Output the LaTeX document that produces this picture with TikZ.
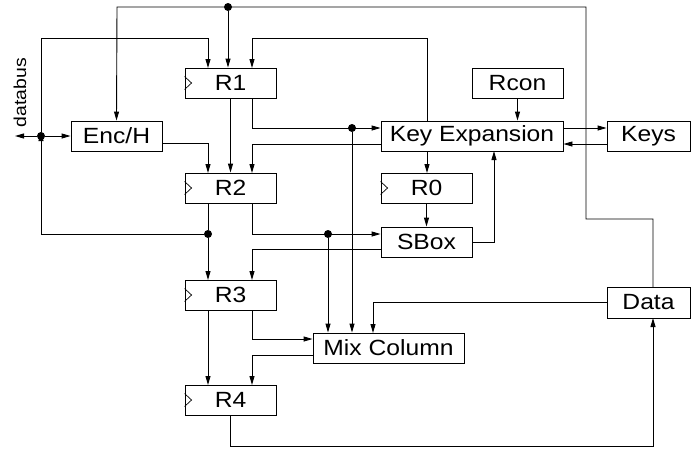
\documentclass[tikz,border=0pt]{standalone}
\usepackage{fontspec}
\setmainfont{Liberation Sans}[FakeStretch=1.12]
\usetikzlibrary{arrows.meta}
\begin{document}
\begin{tikzpicture}[x=1pt,y=-1pt,
  line width=0.9pt,
  blk/.style={draw,inner sep=0pt,minimum height=30pt,font=\fontsize{22}{26}\selectfont},
  ar/.style={-{Triangle[length=9pt,width=5pt]}},
  dotc/.style={circle,fill,inner sep=0pt,minimum size=8pt}]
\useasboundingbox (0,0) rectangle (691,448);
% boxes
\node[blk,minimum width=91pt] (R1) at (230.5,83) {R1};
\node[blk,minimum width=91pt] (R2) at (230.5,188) {R2};
\node[blk,minimum width=91pt] (R3) at (230.5,295) {R3};
\node[blk,minimum width=91pt] (R4) at (230.5,400) {R4};
\node[blk,minimum width=91pt] (E) at (116.5,136) {Enc/H};
\node[blk,minimum width=182pt] (KE) at (472,136) {Key Expansion};
\node[blk,minimum width=91pt] (Rc) at (517.5,83) {Rcon};
\node[blk,minimum width=83pt] (K) at (648.5,136) {Keys};
\node[blk,minimum width=91pt] (R0) at (426.5,188) {R0};
\node[blk,minimum width=91pt] (S) at (426.5,242) {SBox};
\node[blk,minimum width=151pt] (M) at (388.5,348) {Mix Column};
\node[blk,minimum width=83pt,minimum height=31pt] (D) at (648.5,302.5) {Data};
% clock marks
\foreach \r in {R1,R2,R3,R4,R0}{
  \draw[line width=0.7pt] ([yshift=6.5pt]\r.west) -- ([xshift=7pt]\r.west) -- ([yshift=-6.5pt]\r.west);
}
% dots / coordinates
\node[dotc] (db) at (41,136) {};
\node[dotc] (dt) at (228,7) {};
\node[dotc] (d2) at (208,234) {};
\node[dotc] (d3) at (328,234) {};
\node[dotc] (d1) at (352,128) {};
\coordinate (dbl) at (15,136);
\node[rotate=90,anchor=base,inner sep=0pt] (dbt) at (26,92.5) {\resizebox{69pt}{12.5pt}{databus}};
% top loop Data -> Enc/H, R1
\draw[ar] (653,287) -- (653,219) -- (586,219) -- (586,7) -- (117,7) -- (E.north);
\draw[ar] (dt) -- (dt |- R1.north);
% databus
\draw[ar] (db) -- (dbl);
\draw[ar] (db) -- (E.west);
\draw[ar] (db) -- (41,38) -- (208,38) -- (208,68);
\draw[ar] (d2) -- (41,234) -- ([yshift=4pt]db.center);
% R1 outputs
\draw[ar] (R1.south) -- (R2.north);
\draw[ar] (252,98) -- (252,128) -- (KE.west |- 0,128);
\draw[ar] (d1) -- (d1 |- M.north);
% KE -> R2, R1
\draw[ar] (KE.west |- 0,144) -- (252,144) -- (252,173);
\draw[ar] (427,121) -- (427,38) -- (252,38) -- (252,68);
% Enc/H -> R2
\draw[ar] (E.east |- 0,143) -- (208,143) -- (208,173);
% R2 outputs
\draw (208,203) -- (d2);
\draw[ar] (d2) -- (208,280);
\draw[ar] (252,203) -- (252,234) -- (S.west |- 0,234);
\draw[ar] (d3) -- (d3 |- M.north);
% SBox
\draw[ar] (S.west |- 0,249) -- (252,249) -- (252,280);
\draw[ar] (S.east) -- (494,242) -- (494,151);
% Rcon, Keys, R0
\draw[ar] (Rc.south) -- (Rc.south |- KE.north);
\draw[ar] (KE.east |- 0,128) -- (K.west |- 0,128);
\draw[ar] (K.west |- 0,144) -- (KE.east |- 0,144);
\draw[ar] (427,151) -- (427,173);
\draw[ar] (R0.south) -- (S.north);
% Data -> Mix Column
\draw[ar] (D.west) -- (373,302.5) -- (373,333);
% R3
\draw[ar] (208,310) -- (208,385);
\draw[ar] (252,310) -- (252,339) -- (M.west |- 0,339);
\draw[ar] (M.west |- 0,355) -- (252,355) -- (252,385);
% R4 -> Data
\draw[ar] (R4.south) -- (230.5,446) -- (653,446) -- (653,318);
\end{tikzpicture}
\end{document}
